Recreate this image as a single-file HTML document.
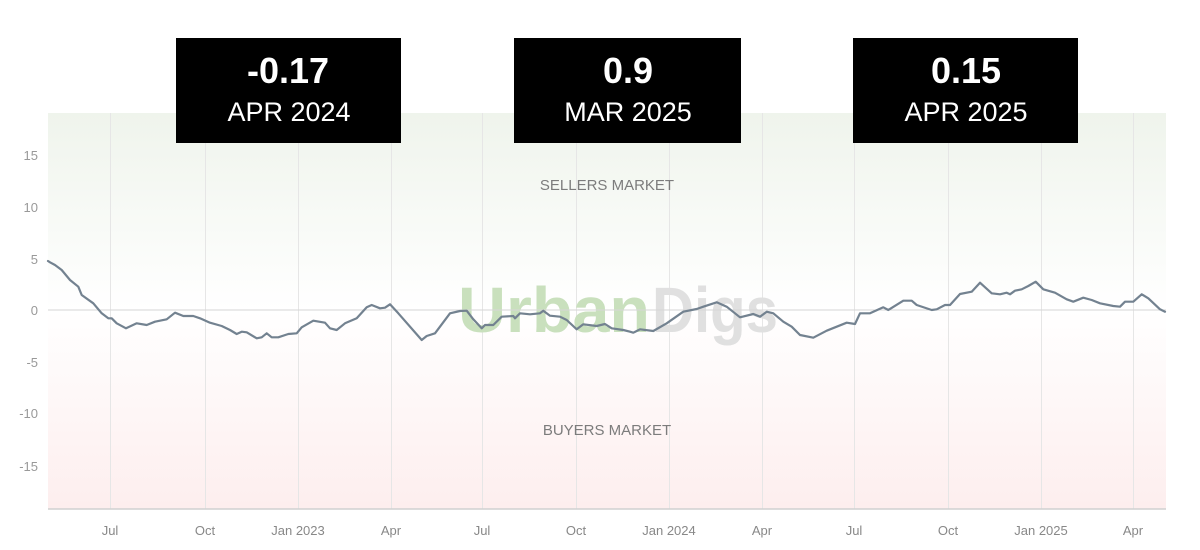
<!DOCTYPE html>
<html>
<head>
<meta charset="utf-8">
<style>
html,body{margin:0;padding:0;background:#fff;width:1200px;height:550px;overflow:hidden}
svg{display:block}
text{font-family:"Liberation Sans",sans-serif}
</style>
</head>
<body>
<svg width="1200" height="550" viewBox="0 0 1200 550" xmlns="http://www.w3.org/2000/svg">
<defs>
<linearGradient id="gs" x1="0" y1="0" x2="0" y2="1">
<stop offset="0" stop-color="#eff4ec"/>
<stop offset="1" stop-color="#ffffff"/>
</linearGradient>
<linearGradient id="gb" x1="0" y1="0" x2="0" y2="1">
<stop offset="0" stop-color="#ffffff"/>
<stop offset="1" stop-color="#fdeeee"/>
</linearGradient>
</defs>
<rect x="0" y="0" width="1200" height="550" fill="#fff"/>
<rect x="48" y="113" width="1118" height="197" fill="url(#gs)"/>
<rect x="48" y="310" width="1118" height="199" fill="url(#gb)"/>

<!-- vertical gridlines -->
<g stroke="#e6e6e6" stroke-width="1">
<line x1="110.5" y1="113" x2="110.5" y2="509"/>
<line x1="205.5" y1="113" x2="205.5" y2="509"/>
<line x1="298.5" y1="113" x2="298.5" y2="509"/>
<line x1="391.5" y1="113" x2="391.5" y2="509"/>
<line x1="482.5" y1="113" x2="482.5" y2="509"/>
<line x1="576.5" y1="113" x2="576.5" y2="509"/>
<line x1="669.5" y1="113" x2="669.5" y2="509"/>
<line x1="762.5" y1="113" x2="762.5" y2="509"/>
<line x1="854.5" y1="113" x2="854.5" y2="509"/>
<line x1="948.5" y1="113" x2="948.5" y2="509"/>
<line x1="1041.5" y1="113" x2="1041.5" y2="509"/>
<line x1="1133.5" y1="113" x2="1133.5" y2="509"/>
</g>

<!-- watermark -->
<text x="458" y="332" font-size="64" font-weight="bold" fill="#c9e0bd" textLength="192" lengthAdjust="spacingAndGlyphs">Urban</text>
<text x="652" y="332" font-size="64" font-weight="bold" fill="#e0e0e0" textLength="126" lengthAdjust="spacingAndGlyphs">Digs</text>

<!-- zero line -->
<line x1="48" y1="310" x2="1166" y2="310" stroke="#d6d6d6" stroke-width="1"/>
<!-- bottom axis -->
<line x1="48" y1="509" x2="1166" y2="509" stroke="#d0d0d0" stroke-width="1.5"/>

<!-- market labels -->
<text x="607" y="190" font-size="15" fill="#7c7c7c" text-anchor="middle">SELLERS MARKET</text>
<text x="607" y="435" font-size="15" fill="#7c7c7c" text-anchor="middle">BUYERS MARKET</text>

<!-- y labels -->
<g font-size="13" fill="#999" text-anchor="end">
<text x="38" y="160">15</text>
<text x="38" y="212">10</text>
<text x="38" y="264">5</text>
<text x="38" y="315">0</text>
<text x="38" y="367">-5</text>
<text x="38" y="418">-10</text>
<text x="38" y="471">-15</text>
</g>

<!-- x labels -->
<g font-size="13" fill="#888" text-anchor="middle">
<text x="110" y="535">Jul</text>
<text x="205" y="535">Oct</text>
<text x="298" y="535">Jan 2023</text>
<text x="391" y="535">Apr</text>
<text x="482" y="535">Jul</text>
<text x="576" y="535">Oct</text>
<text x="669" y="535">Jan 2024</text>
<text x="762" y="535">Apr</text>
<text x="854" y="535">Jul</text>
<text x="948" y="535">Oct</text>
<text x="1041" y="535">Jan 2025</text>
<text x="1133" y="535">Apr</text>
</g>

<!-- data line -->
<polyline fill="none" stroke="#738290" stroke-width="2.2" stroke-linejoin="round" stroke-linecap="round" points="
48,261 50,262.3 55,265 61.7,270 70,280 78.3,286.7 81.7,295 93.3,303.3 101.7,313.3 108.3,318.3 111.7,318.3 116.7,323.3 126,328.3 136.7,323.3 146.7,325 155,321.7 166.7,319.3 175,312.7 183.3,316 193.3,316 200,318.3 210,322.7 221.7,326 230,330 236.7,334 241.7,331.7 246.7,332.3 256.7,338.3 261.7,337.3 266.7,333.3 271.7,337.3 278.3,337.3 288.3,334 296.7,333.3 301.7,327.3 313.3,320.7 325,322.7 330,328.3 336.7,330 345,323.3 356.7,318.3 366.7,307.3 371.7,305 380,308.3 385,307.7 390,304.3 398.3,313.3 421.7,340 426.7,336 435,333.3 450,313.3 460,311 466.7,310.7 473.3,319.3 481.7,328.3 485,325 493.3,325 501.7,316.7 513.3,316 515,318.3 520,313.3 530,314.3 540,313.3 543.3,310.7 550,315.7 560,316.7 566.7,320 576.7,329.3 583.3,324.3 596.7,326 605,324 611.7,328.3 623.3,330 630,331.7 633.3,332.7 640,329.3 653.3,331 666.7,323.3 683.3,311.7 696.7,309 703.3,306.7 716.7,302.3 726.7,306.7 740,317.3 753.3,314 760,316.7 766.7,311.7 773.3,313.3 783.3,321.7 791.7,326.7 800,335 813.3,337.7 826.7,330.7 846.7,322.7 855,324 860,313.3 870,313.3 883.3,307.3 888.3,310 903.3,300.7 911.7,300.7 916.7,305 931.7,310 936.7,309.3 945,305 950,305 960,294 971.7,291.7 980,282.7 991.7,293.3 1000,294.3 1006.7,292.7 1010,294.3 1015,290.7 1021.7,289.3 1028.3,286 1035.7,281.7 1043.3,289.3 1055,292.7 1066.7,299.3 1073.3,301.7 1083.3,297.7 1091.7,300 1100,303.3 1113.3,306 1120,306.7 1125,301.7 1133.3,301.7 1141.7,294.3 1148.3,298.3 1160,309.3 1165,311.7"/>

<!-- boxes -->
<rect x="176" y="38" width="225" height="105" fill="#000"/>
<rect x="514" y="38" width="227" height="105" fill="#000"/>
<rect x="853" y="38" width="225" height="105" fill="#000"/>
<g fill="#fff" text-anchor="middle">
<text x="288" y="83" font-size="36" font-weight="bold">-0.17</text>
<text x="289" y="121" font-size="27">APR 2024</text>
<text x="628" y="83" font-size="36" font-weight="bold">0.9</text>
<text x="628" y="121" font-size="27">MAR 2025</text>
<text x="966" y="83" font-size="36" font-weight="bold">0.15</text>
<text x="966" y="121" font-size="27">APR 2025</text>
</g>
</svg>
</body>
</html>
